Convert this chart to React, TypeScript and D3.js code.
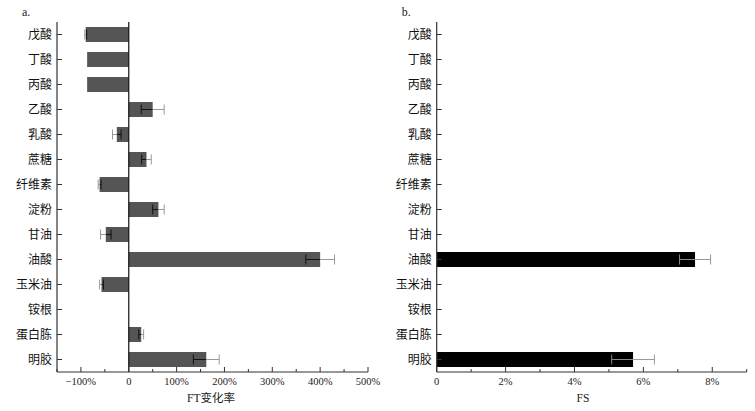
import React from "react";
import * as d3 from "d3";

const categories = ["戊酸", "丁酸", "丙酸", "乙酸", "乳酸", "蔗糖", "纤维素", "淀粉", "甘油", "油酸", "玉米油", "铵根", "蛋白胨", "明胶"];
const ftValues = [-90, -87, -87, 50, -25, 37, -61, 62, -48, 400, -57, 0, 26, 162];
const ftErrors = [2, 0, 0, 24, 9, 10, 3, 12, 11, 30, 4, 0, 5, 27];
const fsValues = [0, 0, 0, 0, 0, 0, 0, 0, 0, 7.5, 0, 0, 0, 5.7];
const fsErrors = [0, 0, 0, 0, 0, 0, 0, 0, 0, 0.45, 0, 0, 0, 0.62];
const ftTicks = [-100, 0, 100, 200, 300, 400, 500];
const ftMinor = [-150, -50, 50, 150, 250, 350, 450];
const fsTicks = [0, 2, 4, 6, 8];
const fsMinor = [1, 3, 5, 7, 9];

const FONT = "'Liberation Serif', 'Times New Roman', 'Noto Sans CJK SC', serif";
const TOP = 22;
const BOTTOM = 372;

type PanelProps = {
  left: number;
  right: number;
  domain: [number, number];
  values: number[];
  errors: number[];
  ticks: number[];
  minor: number[];
  fmt: (v: number) => string;
  barColor: string;
  innerErr: string;
  title: string;
  titleX: number;
  letter: string;
  zeroLine: boolean;
};

function Panel(p: PanelProps) {
  const x = d3.scaleLinear().domain(p.domain).range([p.left, p.right]);
  const y = d3.scaleBand<string>().domain(categories).range([TOP, BOTTOM]).paddingInner(0.4).paddingOuter(0.2);
  const bw = y.bandwidth();
  const axisColor = "#333";
  return (
    <g fontFamily={FONT}>
      <text x={p.left - 35} y={16} fontSize={12} fill="#222">{p.letter}</text>
      {categories.map((c, i) => {
        const v = p.values[i];
        const e = p.errors[i];
        const y0 = y(c)!;
        const cy = y0 + bw / 2;
        const x0 = x(0);
        const xv = x(v);
        const bar = v !== 0 ? (
          <rect x={Math.min(x0, xv)} y={y0} width={Math.abs(xv - x0)} height={bw} fill={p.barColor} />
        ) : null;
        let errEls = null;
        if (e > 0) {
          const xi = x(v - Math.sign(v) * e);
          const xo = x(v + Math.sign(v) * e);
          const cap = 5;
          errEls = (
            <g strokeWidth={1}>
              <line x1={xi} x2={xv} y1={cy} y2={cy} stroke={p.innerErr} />
              <line x1={xi} x2={xi} y1={cy - cap} y2={cy + cap} stroke={p.innerErr} />
              <line x1={xv} x2={xo} y1={cy} y2={cy} stroke="#999" />
              <line x1={xo} x2={xo} y1={cy - cap} y2={cy + cap} stroke="#999" />
            </g>
          );
        }
        return (
          <g key={c}>
            {bar}
            {errEls}
            <line x1={p.left} x2={p.left + 5} y1={cy} y2={cy} stroke={axisColor} />
            <text x={p.left - 5} y={cy} dy="0.35em" textAnchor="end" fontSize={12} fill="#111">{c}</text>
          </g>
        );
      })}
      <line x1={p.left} x2={p.left} y1={TOP} y2={BOTTOM} stroke={axisColor} strokeWidth={1.2} />
      {p.zeroLine && <line x1={x(0)} x2={x(0)} y1={TOP} y2={BOTTOM} stroke="#111" strokeWidth={1.2} />}
      <line x1={p.left} x2={p.right} y1={BOTTOM} y2={BOTTOM} stroke={axisColor} strokeWidth={1.2} />
      {p.ticks.map((t) => (
        <g key={"t" + t}>
          <line x1={x(t)} x2={x(t)} y1={BOTTOM} y2={BOTTOM - 5} stroke={axisColor} />
          <text x={x(t)} y={BOTTOM + 13} textAnchor="middle" fontSize={10.5} fill="#222">{p.fmt(t)}</text>
        </g>
      ))}
      {p.minor.map((t) => (
        <line key={"m" + t} x1={x(t)} x2={x(t)} y1={BOTTOM} y2={BOTTOM - 3} stroke={axisColor} />
      ))}
      <text x={p.titleX} y={BOTTOM + 30} textAnchor="middle" fontSize={11.5} fill="#222">{p.title}</text>
    </g>
  );
}

export default function App() {
  return (
    <svg width={755} height={411} style={{ position: "absolute", left: 0, top: 0, background: "#fff" }}>
      <rect width={755} height={411} fill="#fff" />
      <Panel
        left={57}
        right={368}
        domain={[-150, 500]}
        values={ftValues}
        errors={ftErrors}
        ticks={ftTicks}
        minor={ftMinor}
        fmt={(v) => (v === 0 ? "0" : (v < 0 ? "\u2212" + Math.abs(v) : v) + "%")}
        barColor="#555"
        innerErr="#111"
        title="FT变化率"
        titleX={211}
        letter="a."
        zeroLine={true}
      />
      <Panel
        left={436.7}
        right={746.7}
        domain={[0, 9]}
        values={fsValues}
        errors={fsErrors}
        ticks={fsTicks}
        minor={fsMinor}
        fmt={(v) => (v === 0 ? "0" : v + "%")}
        barColor="#000"
        innerErr="#888"
        title="FS"
        titleX={583}
        letter="b."
        zeroLine={false}
      />
    </svg>
  );
}
